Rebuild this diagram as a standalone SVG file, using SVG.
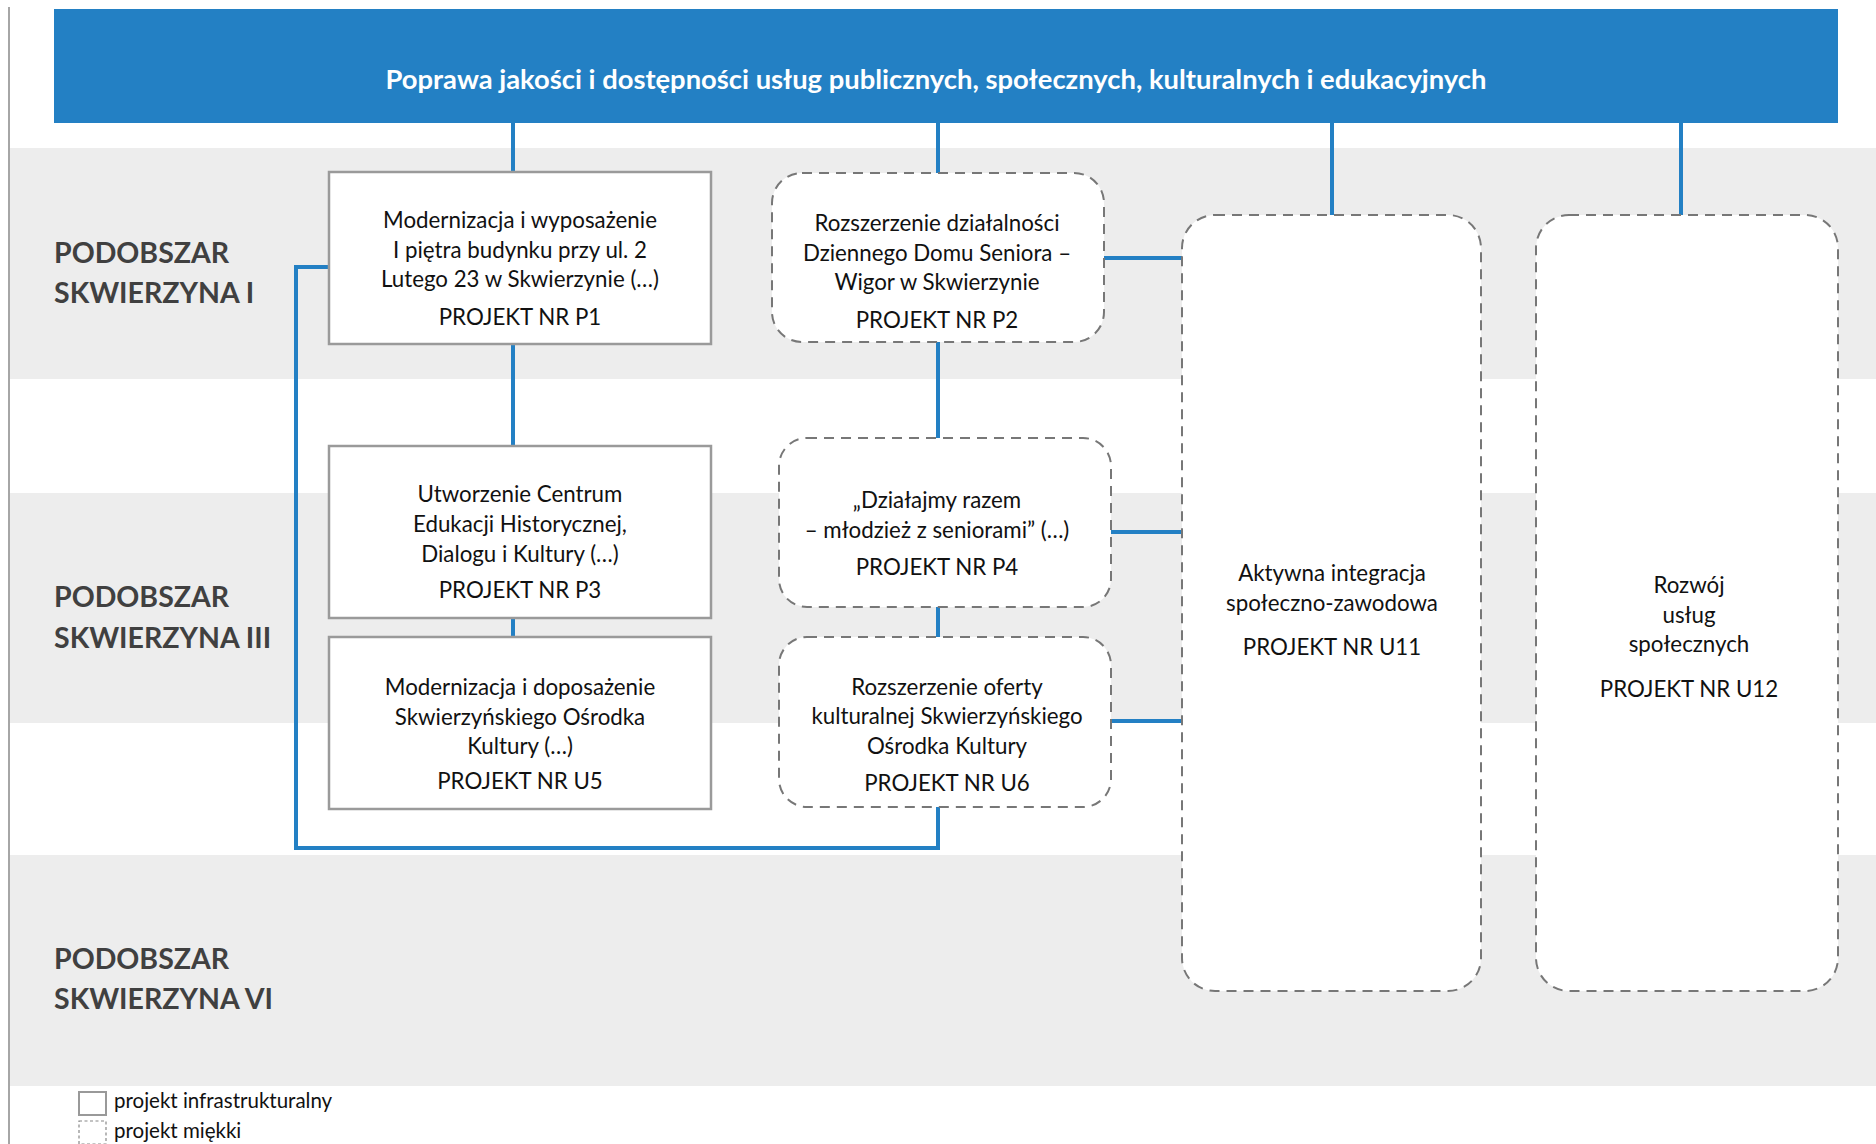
<svg xmlns="http://www.w3.org/2000/svg" width="1876" height="1144" viewBox="0 0 1876 1144">
<defs>
<style>
.band{fill:#ededed}
.lbl{font-family:Lato,"Liberation Sans",sans-serif;font-weight:bold;font-size:28.5px;fill:#404040}
.t{font-family:Lato,"Liberation Sans",sans-serif;font-size:22.3px;fill:#111;text-anchor:middle}
.solid{fill:#fff;stroke:#9a9a9a;stroke-width:2.5}
.dash{fill:#fff;stroke:#777;stroke-width:2;stroke-dasharray:10 7}
.con{fill:none;stroke:#2380c4;stroke-width:4}
.leg{font-family:Lato,"Liberation Sans",sans-serif;font-size:20.5px;fill:#111}
</style>
</defs>
<rect width="1876" height="1144" fill="#fff"/>
<g id="bands">
<rect class="band" x="10" y="148" width="1866" height="231"/>
<rect class="band" x="10" y="493" width="1866" height="230"/>
<rect class="band" x="10" y="855" width="1866" height="231"/>
</g>
<line x1="9" y1="7" x2="9" y2="1144" stroke="#888" stroke-width="1.5"/>
<g id="labels">
<text class="lbl" x="54" y="263">PODOBSZAR</text>
<text class="lbl" x="54" y="303">SKWIERZYNA I</text>
<text class="lbl" x="54" y="607">PODOBSZAR</text>
<text class="lbl" x="54" y="648">SKWIERZYNA III</text>
<text class="lbl" x="54" y="969">PODOBSZAR</text>
<text class="lbl" x="54" y="1009">SKWIERZYNA VI</text>
</g>
<g id="header">
<rect x="54" y="9" width="1784" height="114" fill="#2380c4"/>
<text x="936" y="89" text-anchor="middle" font-family="Lato,'Liberation Sans',sans-serif" font-weight="bold" font-size="27" fill="#fff" textLength="1101" lengthAdjust="spacingAndGlyphs">Poprawa jakości i dostępności usług publicznych, społecznych, kulturalnych i edukacyjnych</text>
</g>
<g id="connectors">
<line class="con" x1="513" y1="123" x2="513" y2="172"/>
<line class="con" x1="513" y1="344" x2="513" y2="446"/>
<line class="con" x1="513" y1="618" x2="513" y2="637"/>
<line class="con" x1="938" y1="123" x2="938" y2="173"/>
<line class="con" x1="938" y1="342" x2="938" y2="438"/>
<line class="con" x1="938" y1="607" x2="938" y2="637"/>
<line class="con" x1="1332" y1="123" x2="1332" y2="215"/>
<line class="con" x1="1681" y1="123" x2="1681" y2="215"/>
<line class="con" x1="1104" y1="258" x2="1182" y2="258"/>
<line class="con" x1="1111" y1="532" x2="1182" y2="532"/>
<line class="con" x1="1111" y1="721" x2="1182" y2="721"/>
<polyline class="con" points="329,267 296,267 296,848 938,848 938,807"/>
</g>
<g id="P1">
<rect class="solid" x="329" y="172" width="382" height="172"/>
<text class="t" x="520" y="228">Modernizacja i wyposażenie</text>
<text class="t" x="520" y="258">I piętra budynku przy ul. 2</text>
<text class="t" x="520" y="287">Lutego 23 w Skwierzynie (…)</text>
<text class="t" x="520" y="325">PROJEKT NR P1</text>
</g>
<g id="P2">
<rect class="dash" x="772" y="173" width="332" height="169" rx="30"/>
<text class="t" x="937" y="231">Rozszerzenie działalności</text>
<text class="t" x="937" y="261">Dziennego Domu Seniora –</text>
<text class="t" x="937" y="290">Wigor w Skwierzynie</text>
<text class="t" x="937" y="328">PROJEKT NR P2</text>
</g>
<g id="P3">
<rect class="solid" x="329" y="446" width="382" height="172"/>
<text class="t" x="520" y="502">Utworzenie Centrum</text>
<text class="t" x="520" y="532">Edukacji Historycznej,</text>
<text class="t" x="520" y="562">Dialogu i Kultury (…)</text>
<text class="t" x="520" y="598">PROJEKT NR P3</text>
</g>
<g id="U5">
<rect class="solid" x="329" y="637" width="382" height="172"/>
<text class="t" x="520" y="695">Modernizacja i doposażenie</text>
<text class="t" x="520" y="725">Skwierzyńskiego Ośrodka</text>
<text class="t" x="520" y="754">Kultury (…)</text>
<text class="t" x="520" y="789">PROJEKT NR U5</text>
</g>
<g id="P4">
<rect class="dash" x="779" y="438" width="332" height="169" rx="28"/>
<text class="t" x="937" y="508">„Działajmy razem</text>
<text class="t" x="937" y="538">– młodzież z seniorami” (…)</text>
<text class="t" x="937" y="575">PROJEKT NR P4</text>
</g>
<g id="U6">
<rect class="dash" x="779" y="637" width="332" height="170" rx="28"/>
<text class="t" x="947" y="695">Rozszerzenie oferty</text>
<text class="t" x="947" y="724">kulturalnej Skwierzyńskiego</text>
<text class="t" x="947" y="754">Ośrodka Kultury</text>
<text class="t" x="947" y="791">PROJEKT NR U6</text>
</g>
<g id="U11">
<rect class="dash" x="1182" y="215" width="299" height="776" rx="33"/>
<text class="t" x="1332" y="581">Aktywna integracja</text>
<text class="t" x="1332" y="611">społeczno-zawodowa</text>
<text class="t" x="1332" y="655">PROJEKT NR U11</text>
</g>
<g id="U12">
<rect class="dash" x="1536" y="215" width="302" height="776" rx="33"/>
<text class="t" x="1689" y="593">Rozwój</text>
<text class="t" x="1689" y="623">usług</text>
<text class="t" x="1689" y="652">społecznych</text>
<text class="t" x="1689" y="697">PROJEKT NR U12</text>
</g>
<g id="legend">
<rect x="79" y="1092" width="27" height="23" fill="#fff" stroke="#999" stroke-width="2"/>
<text class="leg" x="114" y="1108">projekt infrastrukturalny</text>
<rect x="79" y="1121" width="27" height="23" fill="#fff" stroke="#888" stroke-width="1.2" stroke-dasharray="3 2.5"/>
<text class="leg" x="114" y="1138">projekt miękki</text>
</g>
</svg>
